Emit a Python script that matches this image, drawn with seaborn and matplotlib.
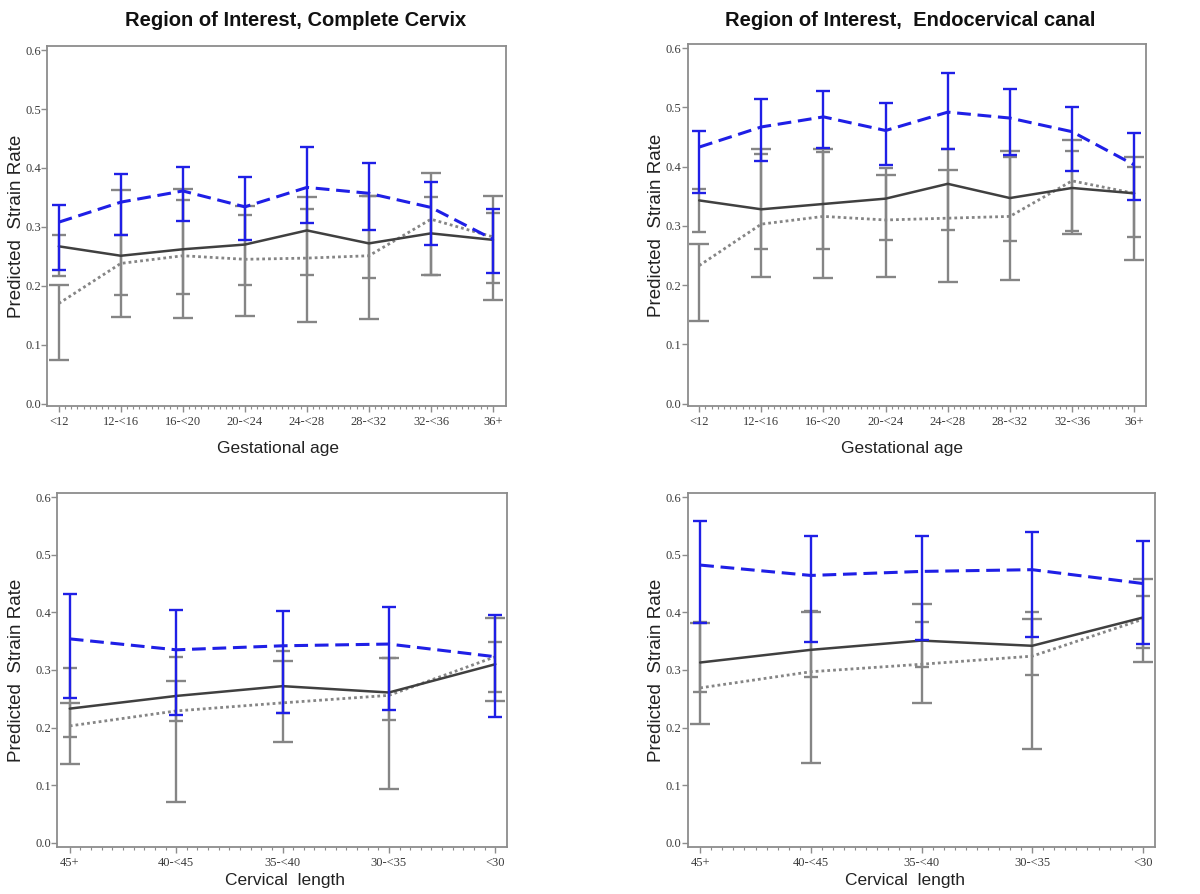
import numpy as np
import pandas as pd
import matplotlib
matplotlib.use("Agg")
import matplotlib.pyplot as plt
import seaborn as sns
from matplotlib.ticker import FixedLocator

# ---------------- data ----------------
cats_ga = ['<12', '12-<16', '16-<20', '20-<24', '24-<28', '28-<32', '32-<36', '36+']
cats_cl = ['45+', '40-<45', '35-<40', '30-<35', '<30']

# Panel 1: Complete Cervix by gestational age
p1_blue = [0.308, 0.342, 0.361, 0.334, 0.367, 0.357, 0.333, 0.279]
p1_blue_lo = [0.227, 0.286, 0.310, 0.278, 0.306, 0.295, 0.269, 0.221]
p1_blue_hi = [0.337, 0.389, 0.402, 0.385, 0.435, 0.408, 0.376, 0.331]
p1_solid = [0.267, 0.251, 0.262, 0.270, 0.294, 0.272, 0.289, 0.278]
p1_solid_lo = [0.217, 0.185, 0.186, 0.201, 0.218, 0.213, 0.219, 0.205]
p1_solid_hi = [0.287, 0.286, 0.345, 0.321, 0.330, 0.352, 0.351, 0.324]
p1_dot = [0.170, 0.238, 0.251, 0.245, 0.247, 0.251, 0.313, 0.283]
p1_dot_lo = [0.074, 0.147, 0.146, 0.148, 0.139, 0.143, 0.218, 0.176]
p1_dot_hi = [0.202, 0.363, 0.364, 0.335, 0.351, 0.352, 0.392, 0.353]

# Panel 2: Endocervical canal by gestational age
p2_blue = [0.433, 0.467, 0.484, 0.461, 0.492, 0.482, 0.459, 0.403]
p2_blue_lo = [0.355, 0.410, 0.431, 0.402, 0.430, 0.419, 0.393, 0.344]
p2_blue_hi = [0.461, 0.514, 0.527, 0.508, 0.558, 0.531, 0.500, 0.456]
p2_solid = [0.343, 0.328, 0.337, 0.346, 0.371, 0.347, 0.364, 0.355]
p2_solid_lo = [0.289, 0.261, 0.261, 0.277, 0.293, 0.275, 0.292, 0.282]
p2_solid_hi = [0.362, 0.421, 0.424, 0.397, 0.429, 0.416, 0.427, 0.400]
p2_dot = [0.233, 0.303, 0.316, 0.310, 0.313, 0.316, 0.376, 0.355]
p2_dot_lo = [0.139, 0.213, 0.212, 0.213, 0.205, 0.209, 0.287, 0.242]
p2_dot_hi = [0.269, 0.430, 0.430, 0.386, 0.395, 0.427, 0.445, 0.417]

# Panel 3: Complete Cervix by cervical length
p3_blue = [0.354, 0.335, 0.342, 0.345, 0.323]
p3_blue_lo = [0.251, 0.222, 0.226, 0.230, 0.219]
p3_blue_hi = [0.431, 0.404, 0.402, 0.409, 0.395]
p3_solid = [0.233, 0.255, 0.272, 0.261, 0.310]
p3_solid_lo = [0.184, 0.212, 0.225, 0.213, 0.261]
p3_solid_hi = [0.303, 0.323, 0.333, 0.321, 0.349]
p3_dot = [0.203, 0.229, 0.243, 0.256, 0.323]
p3_dot_lo = [0.137, 0.071, 0.175, 0.094, 0.246]
p3_dot_hi = [0.243, 0.281, 0.316, 0.321, 0.391]

# Panel 4: Endocervical canal by cervical length
p4_blue = [0.482, 0.464, 0.471, 0.474, 0.450]
p4_blue_lo = [0.381, 0.349, 0.352, 0.358, 0.345]
p4_blue_hi = [0.559, 0.533, 0.532, 0.539, 0.523]
p4_solid = [0.313, 0.335, 0.351, 0.342, 0.391]
p4_solid_lo = [0.262, 0.288, 0.305, 0.291, 0.339]
p4_solid_hi = [0.384, 0.403, 0.384, 0.401, 0.428]
p4_dot = [0.269, 0.297, 0.310, 0.324, 0.388]
p4_dot_lo = [0.206, 0.139, 0.243, 0.163, 0.314]
p4_dot_hi = [0.381, 0.400, 0.415, 0.389, 0.457]

yticks = [0.0, 0.1, 0.2, 0.3, 0.4, 0.5, 0.6]
ytick_labels = ['0.0', '0.1', '0.2', '0.3', '0.4', '0.5', '0.6']

title_left = 'Region of Interest, Complete Cervix'
title_right = 'Region of Interest,  Endocervical canal'
ylabel = 'Predicted  Strain Rate'
xlabel_ga = 'Gestational age'
xlabel_cl = 'Cervical  length'

# ---------------- style ----------------
sns.set_theme(style='white')
plt.rcParams['font.family'] = ['Liberation Sans', 'DejaVu Sans']

BLUE = '#1f1fe6'
DARK = '#404040'
GRAY = '#858585'
BAR_GRAY = '#858585'
CAP_DARK = '#2a2a2a'
SPINE = '#8c8c8c'

W, H = 1200, 894
fig = plt.figure(figsize=(12, 8.94), dpi=100)


def rect(l, r, t, b):
    return [l / W, 1 - b / H, (r - l) / W, (b - t) / H]


def panel(ax, cats, blue, blo, bhi, solid, slo, shi, dot, dlo, dhi,
          xlim, ylim, xlabel, xl_pos, yl_x):
    rows = []
    for name, m, lo, hi in [('blue', blue, blo, bhi), ('solid', solid, slo, shi),
                            ('dot', dot, dlo, dhi)]:
        for i, c in enumerate(cats):
            rows.append(dict(pos=i, cat=c, series=name, value=m[i], lo=lo[i], hi=hi[i]))
    df = pd.DataFrame(rows)

    def ebar(name, ecol, capcol, capsize, z):
        d = df[df.series == name]
        eb = ax.errorbar(d.pos, d.value, yerr=[d.value - d.lo, d.hi - d.value],
                         fmt='none', ecolor=ecol, elinewidth=1.7, capsize=capsize,
                         capthick=1.7, zorder=z)
        for cl in eb[1]:
            cl.set_color(capcol)

    ebar('dot', BAR_GRAY, BAR_GRAY, 7, 2)
    ebar('solid', BAR_GRAY, CAP_DARK, 5, 3)
    sns.lineplot(data=df[df.series == 'dot'], x='pos', y='value', color=GRAY,
                 linestyle=(0, (1.0, 1.1)), lw=2.0, ax=ax, zorder=4, legend=False)
    sns.lineplot(data=df[df.series == 'solid'], x='pos', y='value', color=DARK,
                 linestyle='-', lw=1.8, ax=ax, zorder=5, legend=False)
    ebar('blue', BLUE, BLUE, 5, 6)
    sns.lineplot(data=df[df.series == 'blue'], x='pos', y='value', color=BLUE,
                 linestyle=(0, (4.5, 2.2)), lw=2.2, ax=ax, zorder=7, legend=False)

    n = len(cats)
    ax.set_xlim(*xlim)
    ax.set_ylim(*ylim)
    ax.set_xticks(range(n))
    ax.set_xticklabels(cats)
    ax.xaxis.set_minor_locator(FixedLocator(np.arange(0, n - 1 + 1e-6, 0.1)))
    ax.set_yticks(yticks)
    ax.set_yticklabels(ytick_labels)
    ax.tick_params(axis='both', which='major', direction='out', length=4, width=1,
                   color=SPINE, labelsize=9, labelcolor='#3a3a3a',
                   bottom=True, left=True)
    ax.tick_params(axis='x', which='major', pad=3)
    ax.tick_params(axis='y', which='major', pad=0.5)
    ax.tick_params(axis='x', which='minor', direction='out', length=2.5, width=0.8,
                   color=SPINE, bottom=True)
    for lab in ax.get_xticklabels() + ax.get_yticklabels():
        lab.set_fontfamily(['Liberation Serif', 'DejaVu Serif'])
    for s in ax.spines.values():
        s.set_color(SPINE)
        s.set_linewidth(1.3)
    ax.set_xlabel(xlabel, fontsize=12.5, color='#222222')
    ax.xaxis.set_label_coords(xl_pos[0], xl_pos[1])
    ax.set_ylabel(ylabel, fontsize=13.5, color='#222222')
    ax.yaxis.set_label_coords(yl_x, 0.5)
    ax.grid(False)


ax1 = fig.add_axes(rect(47, 506, 46, 406))
ax2 = fig.add_axes(rect(688, 1146, 44, 406))
ax3 = fig.add_axes(rect(57, 507, 493, 847))
ax4 = fig.add_axes(rect(688, 1155, 493, 847))

panel(ax1, cats_ga, p1_blue, p1_blue_lo, p1_blue_hi, p1_solid, p1_solid_lo, p1_solid_hi,
      p1_dot, p1_dot_lo, p1_dot_hi, (-0.19, 7.21), (-0.004, 0.607), xlabel_ga,
      (0.503, -0.098), -0.048)
panel(ax2, cats_ga, p2_blue, p2_blue_lo, p2_blue_hi, p2_solid, p2_solid_lo, p2_solid_hi,
      p2_dot, p2_dot_lo, p2_dot_hi, (-0.18, 7.19), (-0.004, 0.607), xlabel_ga,
      (0.467, -0.098), -0.050)
panel(ax3, cats_cl, p3_blue, p3_blue_lo, p3_blue_hi, p3_solid, p3_solid_lo, p3_solid_hi,
      p3_dot, p3_dot_lo, p3_dot_hi, (-0.12, 4.11), (-0.007, 0.607), xlabel_cl,
      (0.507, -0.074), -0.072)
panel(ax4, cats_cl, p4_blue, p4_blue_lo, p4_blue_hi, p4_solid, p4_solid_lo, p4_solid_hi,
      p4_dot, p4_dot_lo, p4_dot_hi, (-0.11, 4.11), (-0.007, 0.607), xlabel_cl,
      (0.465, -0.074), -0.049)

fig.text(296 / W, 1 - 20 / H, title_left, ha='center', va='center', fontsize=14.5,
         fontweight='bold', color='#111111')
fig.text(910 / W, 1 - 20 / H, title_right, ha='center', va='center', fontsize=14.5,
         fontweight='bold', color='#111111')

fig.savefig('out.png', dpi=100, facecolor='white')
